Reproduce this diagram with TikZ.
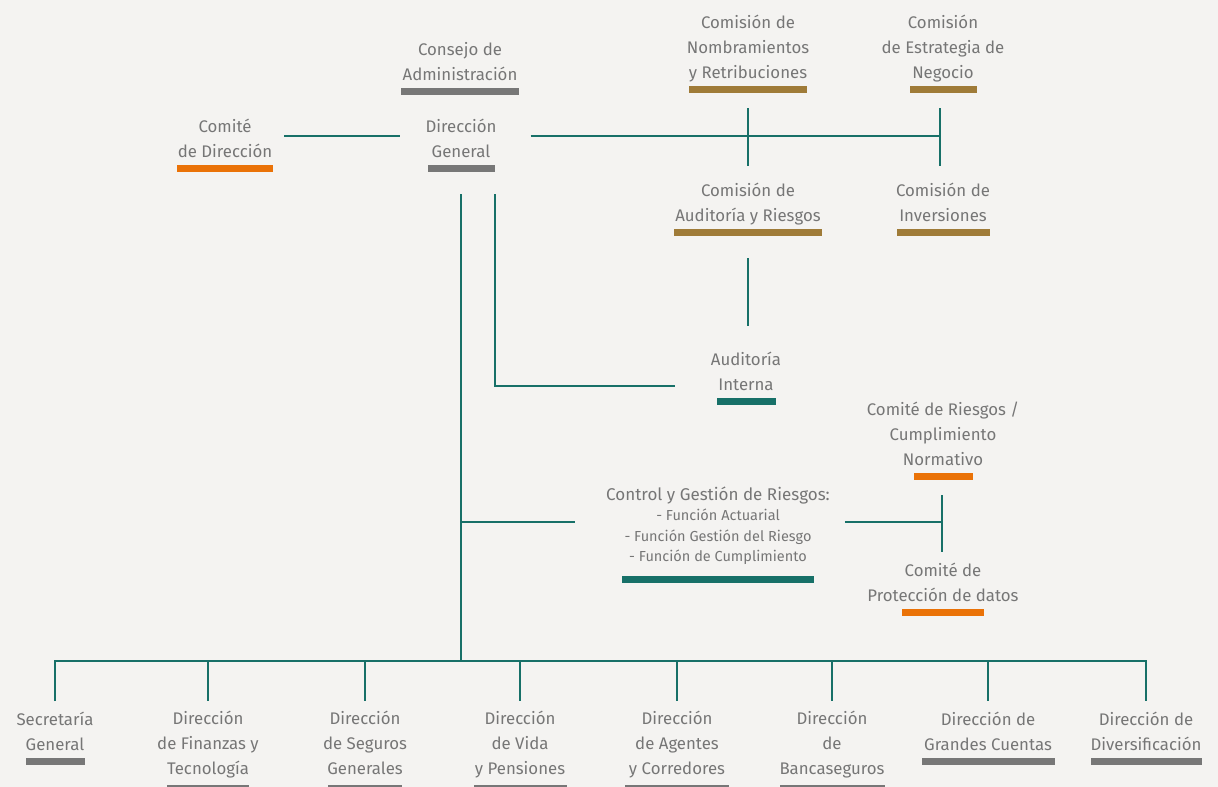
\documentclass[tikz,border=0pt]{standalone}
\usepackage{fontspec}
\setmainfont{Fira Sans}
\definecolor{fondo}{RGB}{244,243,241}
\definecolor{texto}{RGB}{118,118,118}
\definecolor{verde}{RGB}{23,112,104}
\definecolor{gris}{RGB}{119,119,119}
\definecolor{naranja}{RGB}{234,114,7}
\definecolor{oro}{RGB}{159,123,56}

\begin{document}
\begin{tikzpicture}[x=1pt,y=-1pt]
	\tikzstyle{lbl}=[align=center, inner sep=0pt, anchor=south, text=texto, font=\fontsize{16.8}{25}\selectfont, execute at end node=\strut]
	\tikzstyle{link}=[draw=verde, line width=2.5pt]

	\fill[fondo] (0,0) rectangle (1218,787);
	\useasboundingbox (0,0) rectangle (1218,787);

	\node[lbl] (cda) at (460,88) {Consejo de\\Administración};
	\node[lbl] (dg) at (461,165) {Dirección\\General};
	\node[lbl] (cdd) at (225,165) {Comité\\de Dirección};
	\node[lbl] (cnr) at (748,86) {Comisión de\\Nombramientos\\y Retribuciones};
	\node[lbl] (cen) at (943,86) {Comisión\\de Estrategia de\\Negocio};
	\node[lbl] (car) at (748,229) {Comisión de\\Auditoría y Riesgos};
	\node[lbl] (cin) at (943,229) {Comisión de\\Inversiones};
	\node[lbl] (ai) at (746,398) {Auditoría\\Interna};
	\node[lbl] (crc) at (943,473) {Comité de Riesgos /\\Cumplimiento\\Normativo};
	\node[lbl, font=\fontsize{17}{20.5}\selectfont] (cgr) at (718,576) {Control y Gestión de Riesgos:\\
		\fontsize{14.5}{20.5}\selectfont - Función Actuarial\\
		\fontsize{14.5}{20.5}\selectfont - Función Gestión del Riesgo\\
		\fontsize{14.5}{20.5}\selectfont - Función de Cumplimiento\rule[-14pt]{0pt}{0pt}};
	\node[lbl] (cpd) at (943,609) {Comité de\\Protección de datos};

	\node[lbl] (sg) at (55,758) {Secretaría\\General};
	\node[lbl] (dft) at (208,785) {Dirección\\de Finanzas y\\Tecnología\rule[-10pt]{0pt}{0pt}};
	\node[lbl] (dsg) at (365,785) {Dirección\\de Seguros\\Generales\rule[-10pt]{0pt}{0pt}};
	\node[lbl] (dvp) at (520,785) {Dirección\\de Vida\\y Pensiones\rule[-10pt]{0pt}{0pt}};
	\node[lbl] (dac) at (677,785) {Dirección\\de Agentes\\y Corredores\rule[-10pt]{0pt}{0pt}};
	\node[lbl] (dbs) at (832,785) {Dirección\\de\\Bancaseguros\rule[-10pt]{0pt}{0pt}};
	\node[lbl] (dgc) at (988,758) {Dirección de\\Grandes Cuentas};
	\node[lbl] (ddv) at (1146,758) {Dirección de\\Diversificación};

	\foreach \n/\w/\c in {cda/118/gris, dg/67/gris, cdd/96/naranja, cnr/118/oro, cen/67/oro,
		car/148/oro, cin/93/oro, ai/59/verde, crc/59/naranja, cgr/192/verde, cpd/82/naranja,
		sg/59/gris, dft/82/gris, dsg/74/gris, dvp/93/gris, dac/104/gris, dbs/105/gris,
		dgc/133/gris, ddv/111/gris}
	\fill[fill=\c] ([xshift=-\w/2]\n.south) rectangle ++(\w,7);

	\coordinate (jn) at (748,136);
	\coordinate (je) at (940,136);
	\coordinate (ain) at (675,386);
	\coordinate (cgw) at (575,522);
	\coordinate (jr) at (942,522);
	\coordinate (bus) at (461,661);

	\draw[link] ([xshift=12]cdd.east |- jn) -- ([xshift=-25]dg.west |- jn);
	\draw[link] ([xshift=34]dg.east |- jn) -- (je);
	\draw[link] ([yshift=-22]cnr.south) -- ++(0,58);
	\draw[link] ([yshift=-22]cen.south -| je) -- ++(0,58);
	\draw[link] ([yshift=-29]car.south) -- ++(0,68);
	\draw[link] ([yshift=-29]dg.south) -- (bus);
	\draw[link] ([xshift=34,yshift=-29]dg.south) |- (ain);
	\draw[link] (cgw -| bus) -- (cgw);
	\draw[link] ([xshift=15]cgr.east |- jr) -- (jr);
	\draw[link] ([yshift=-22]crc.south -| jr) -- ++(0,57);
	\draw[link] (sg |- bus) ++(0,40) -- (sg |- bus) -- (ddv |- bus) -- ++(0,40);
	\foreach \n in {dft,dsg,dvp,dac,dbs,dgc}
	\draw[link] (\n |- bus) -- ++(0,40);
\end{tikzpicture}
\end{document}
